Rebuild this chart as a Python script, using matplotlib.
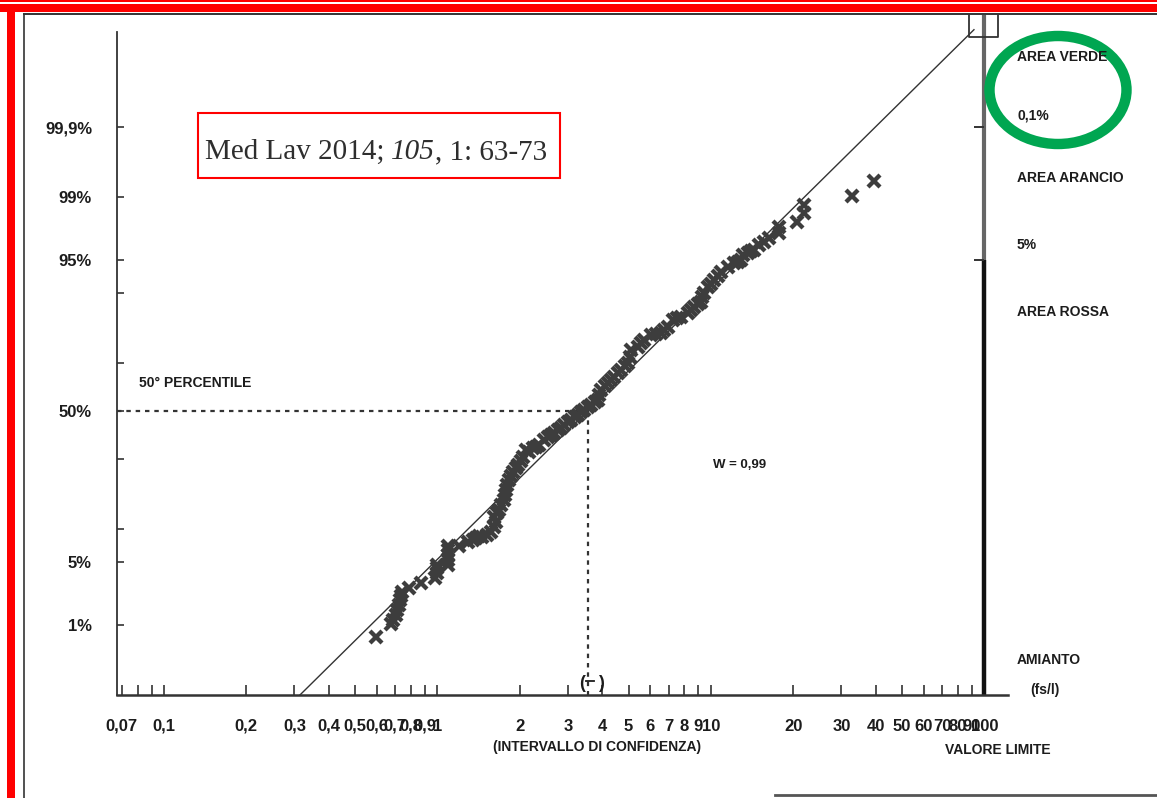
import matplotlib
matplotlib.use('Agg')
import matplotlib.pyplot as plt
import numpy as np
from statistics import NormalDist
from matplotlib.patches import Ellipse, Rectangle
from matplotlib.lines import Line2D

# asbestos concentrations (fs/l) and their cumulative frequency (%)
conc = [0.598, 0.678, 0.690, 0.708, 0.714, 0.726, 0.732, 0.738, 0.744, 0.790,
        0.874, 0.983, 0.992, 1.00, 1.00, 1.097, 1.097, 1.097, 1.097, 1.097,
        1.194, 1.288, 1.378, 1.449, 1.512, 1.564, 1.604, 1.632, 1.604, 1.673,
        1.745, 1.775, 1.820, 1.882, 1.963, 2.048, 2.101, 2.228, 2.344, 2.445,
        2.594, 2.752, 2.894, 3.070, 3.258, 3.425, 3.634, 3.856, 3.955, 4.195,
        4.412, 4.682, 4.966, 5.093, 5.403, 5.683, 6.029, 6.559, 6.958, 7.258,
        7.765, 8.236, 8.663, 9.193, 9.428, 9.750, 10.26, 10.88, 11.54, 12.14,
        12.88, 13.10, 13.66, 14.37, 14.99, 15.64, 16.31, 17.75, 17.75, 20.65,
        21.91, 21.91, 32.85, 39.54,
        # dense central part of the sample
        1.344, 1.413, 1.645, 1.701, 1.760, 1.790, 1.851, 1.931, 2.014, 2.154,
        2.286, 2.528, 2.660, 2.822, 2.994, 3.176, 3.341, 3.544, 3.760, 3.890,
        4.091, 4.303, 4.564, 4.842, 5.050, 5.542, 6.288, 6.726, 7.508, 8.447,
        8.963, 9.268, 10.00, 10.61, 12.56, 14.01]
cum_pct = [0.69, 1.02, 1.14, 1.31, 1.51, 1.73, 1.98, 2.20, 2.43, 2.69,
           3.05, 3.45, 3.88, 4.36, 4.67, 4.67, 5.23, 5.83, 6.50, 7.07,
           7.07, 7.68, 8.33, 8.49, 8.84, 9.37, 10.31, 11.33, 12.40, 14.05,
           16.62, 19.47, 22.61, 25.33, 27.82, 30.82, 33.54, 34.35, 35.57, 37.60,
           39.70, 41.80, 43.93, 46.10, 48.26, 50.43, 52.61, 54.77, 59.05, 61.98,
           64.45, 67.24, 69.95, 74.68, 75.72, 78.04, 79.61, 80.23, 81.99, 83.92,
           84.71, 85.71, 87.14, 88.25, 90.07, 91.16, 92.32, 93.50, 94.16, 94.65,
           95.00, 95.54, 95.74, 96.03, 96.47, 96.72, 97.03, 97.38, 97.75, 98.02,
           98.45, 98.76, 99.04, 99.39,
           8.00, 8.66, 13.33, 15.29, 18.01, 21.01, 23.95, 26.73, 29.29, 32.75,
           34.75, 38.86, 40.52, 42.66, 45.23, 47.40, 49.56, 51.74, 53.90, 56.92,
           60.73, 63.23, 66.05, 68.80, 72.18, 77.06, 79.93, 81.11, 84.45, 86.44,
           87.82, 89.29, 91.67, 92.93, 94.77, 95.93]

# lognormal fit: geometric mean and geometric standard deviation
gm = 3.54
gsd = 2.19
ci_low, ci_high = 3.37, 3.95

x_ticks = [0.07, 0.08, 0.09, 0.1, 0.2, 0.3, 0.4, 0.5, 0.6, 0.7, 0.8, 0.9,
           1, 2, 3, 4, 5, 6, 7, 8, 9, 10, 20, 30, 40, 50, 60, 70, 80, 90, 100]
x_labels = ['0,07', '', '', '0,1', '0,2', '0,3', '0,4', '0,5', '0,6', '0,7',
            '0,8', '0,9', '1', '2', '3', '4', '5', '6', '7', '8', '9', '10',
            '20', '30', '40', '50', '60', '70', '80', '90', '100']
y_ticks = [1, 5, 10, 30, 50, 70, 90, 95, 99, 99.9]
y_labels = ['1%', '5%', '', '', '50%', '', '', '95%', '99%', '99,9%']

W, H = 1157, 798
sans = ['Liberation Sans', 'DejaVu Sans']
ink = '#1c1c1c'
nd = NormalDist()


def to_z(p):
    p = np.clip(np.asarray(p, dtype=float), 1e-7, 100 - 1e-7)
    return np.vectorize(lambda v: nd.inv_cdf(v / 100), otypes=[float])(p)


def from_z(z):
    z = np.asarray(z, dtype=float)
    return np.vectorize(lambda v: nd.cdf(v) * 100, otypes=[float])(z)


def fx(x):
    return x / W


def fy(y):
    return 1 - y / H


fig = plt.figure(figsize=(W / 100, H / 100), dpi=100)
ax = fig.add_axes([fx(117), fy(695), (1008 - 117) / W, (695 - 15) / H])

ax.set_xscale('log')
ax.set_yscale('function', functions=(to_z, from_z))
z_lo, z_hi = -3.09, 4.31
ax.set_xlim(0.0673, 122)
ax.set_ylim(float(from_z(z_lo)), float(from_z(z_hi)))

for s in ['top', 'right']:
    ax.spines[s].set_visible(False)
ax.spines['left'].set_bounds(float(from_z(z_lo)), float(from_z(4.12)))
ax.spines['left'].set_color('#333333')
ax.spines['bottom'].set_color('#333333')
ax.spines['left'].set_linewidth(1.3)
ax.spines['bottom'].set_linewidth(1.8)

ax.set_xticks(x_ticks)
ax.set_xticklabels(x_labels)
ax.xaxis.set_minor_locator(matplotlib.ticker.NullLocator())
ax.set_yticks(y_ticks)
ax.set_yticklabels(y_labels)
ax.yaxis.set_minor_locator(matplotlib.ticker.NullLocator())
ax.tick_params(axis='x', direction='in', length=7, width=1.2, pad=17,
               colors='#333333', labelcolor=ink)
ax.tick_params(axis='y', direction='in', length=5, width=1.2, pad=18,
               colors='#333333', labelcolor=ink)
for lab in ax.get_xticklabels() + ax.get_yticklabels():
    lab.set_family(sans)
    lab.set_fontweight('bold')
    lab.set_fontsize(12)

# fitted lognormal line
z_line = np.array([z_lo, 4.15])
ax.plot(gm * gsd ** z_line, from_z(z_line), color='#333333', lw=1.0,
        clip_on=False, zorder=2)

# median guides
ax.plot([0.0673, gm], [50, 50], color='#333333', lw=1.6, ls=(0, (2, 2.2)))
ax.plot([gm, gm], [50, float(from_z(z_lo))], color='#333333', lw=1.6,
        ls=(0, (2, 2.2)))

# observed values
ax.plot(conc, cum_pct, ls='none', marker='x', ms=9, mew=3.1,
        color='#3d3d3d', zorder=3)

# confidence interval of the median on the axis
xt = ax.get_xaxis_transform()
ax.text(ci_low, 0.004, '(', transform=xt, ha='center', va='bottom',
        fontsize=13, fontweight='bold', family=sans, color=ink)
ax.text(ci_high, 0.004, ')', transform=xt, ha='center', va='bottom',
        fontsize=13, fontweight='bold', family=sans, color=ink)
ax.plot([3.5, 3.75], [0.02, 0.02], transform=xt, color=ink, lw=1.3)

# limit value line
ax.plot([100, 100], [float(from_z(1.645)), float(from_z(z_hi))],
        color='#666666', lw=3, clip_on=False, solid_capstyle='butt')
ax.plot([100, 100], [float(from_z(z_lo)), float(from_z(1.645))],
        color='#111111', lw=3.2, clip_on=False, solid_capstyle='butt')
ax.plot([100, 100], [99.9, 95], ls='none', marker=0, ms=7, mew=1.4,
        color='#333333', clip_on=False)
ax.plot([88, 88, 112, 112], [1, 0.968, 0.968, 1], transform=xt,
        color='#333333', lw=1.3, clip_on=False)

bold = dict(family=sans, fontweight='bold', color=ink)
ax.text(0.0808, float(from_z(0.3)), '50° PERCENTILE', fontsize=10,
        va='center', **bold)
ax.text(10.2, float(from_z(-0.59)), 'W = 0,99', fontsize=9.5,
        va='center', **bold)

fig.text(fx(597), fy(747), '(INTERVALLO DI CONFIDENZA)', ha='center',
         va='center', fontsize=10, **bold)
fig.text(fx(945), fy(750), 'VALORE LIMITE', ha='left', va='center',
         fontsize=10, **bold)
fig.text(fx(1017), fy(660), 'AMIANTO', ha='left', va='center',
         fontsize=10, **bold)
fig.text(fx(1030), fy(690), '(fs/l)', ha='left', va='center',
         fontsize=10, **bold)
for txt, ypos in [('AREA VERDE', 57), ('0,1%', 115), ('AREA ARANCIO', 178),
                  ('5%', 245), ('AREA ROSSA', 312)]:
    fig.text(fx(1017), fy(ypos), txt, ha='left', va='center', fontsize=10,
             **bold)

# journal reference box
serif = dict(family='Liberation Serif', fontsize=21, color='#2e2e2e')
t1 = fig.text(fx(205), fy(159), 'Med Lav 2014;', va='baseline', **serif)
a1 = ax.annotate('105', xy=(1, 0), xycoords=t1, xytext=(5, 0),
                 textcoords='offset points', va='bottom', ha='left',
                 style='italic', annotation_clip=False, **serif)
a2 = ax.annotate(', 1: 63-73', xy=(1, 0), xycoords=a1, xytext=(0, 0),
                 textcoords='offset points', va='bottom', ha='left',
                 annotation_clip=False, **serif)
fig.add_artist(Rectangle((fx(198), fy(178)), (560 - 198) / W, (178 - 113) / H,
                         transform=fig.transFigure, fill=False,
                         ec='#ff0000', lw=1.5))

# green highlight
fig.add_artist(Ellipse((fx(1058), fy(90)), 137 / W, 108 / H,
                       transform=fig.transFigure, fill=False,
                       ec='#00a651', lw=7.5))

# page frame
red = '#ff0000'
fig.add_artist(Rectangle((0, fy(2)), 1, 2 / H, transform=fig.transFigure,
                         color=red, lw=0))
fig.add_artist(Rectangle((0, fy(12)), 1, 8 / H, transform=fig.transFigure,
                         color=red, lw=0))
fig.add_artist(Rectangle((fx(7), 0), 8 / W, fy(12), transform=fig.transFigure,
                         color=red, lw=0))
fig.add_artist(Line2D([fx(24), fx(24)], [0, fy(14)], transform=fig.transFigure,
                      color='#333333', lw=1.2))
fig.add_artist(Line2D([fx(24), 1], [fy(14), fy(14)], transform=fig.transFigure,
                      color='#333333', lw=1.4))
fig.add_artist(Line2D([fx(775), 1], [fy(795), fy(795)],
                      transform=fig.transFigure, color='#555555', lw=2))

fig.savefig('out.png', dpi=100)
